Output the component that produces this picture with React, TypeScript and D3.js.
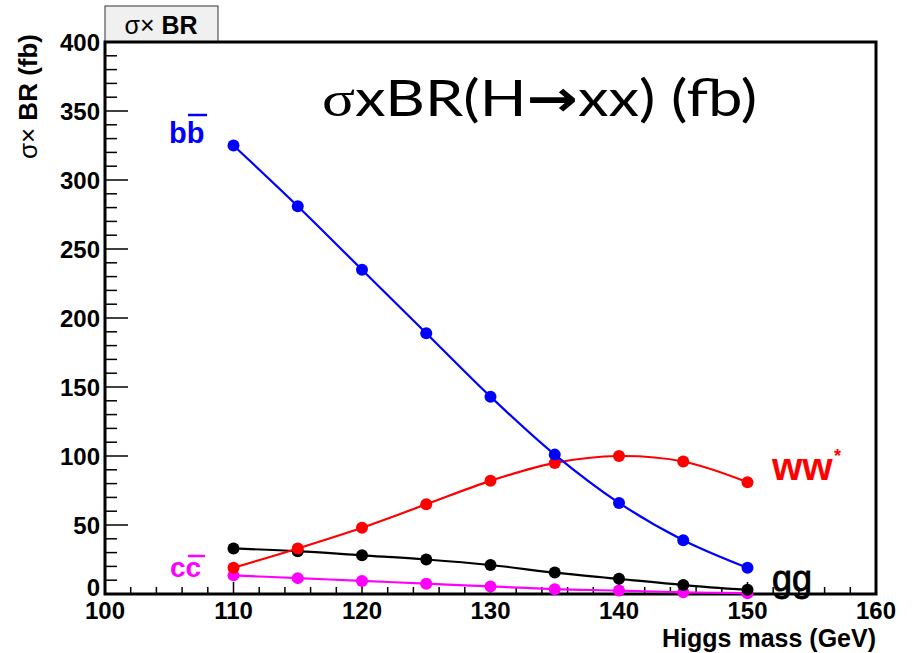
import React from "react";
import * as d3 from "d3";

const mass = [110, 115, 120, 125, 130, 135, 140, 145, 150];
const bbValues = [325, 281, 235, 189, 143, 101, 66, 39, 19];
const wwValues = [19, 33, 48, 65, 82, 95, 100, 96, 81];
const ggValues = [33, 31, 28, 25, 21, 15.5, 11, 6.5, 3];
const ccValues = [13.5, 11.5, 9.5, 7.5, 5.5, 3.5, 2.5, 1.2, 0.6];
const xTicks = [100, 110, 120, 130, 140, 150, 160];
const yTicks = [0, 50, 100, 150, 200, 250, 300, 350, 400];

const W = 913, H = 653;
const L = 105, R = 876, T = 42, B = 594;

export default function App() {
  const x = d3.scaleLinear().domain([100, 160]).range([L, R]);
  const y = d3.scaleLinear().domain([0, 400]).range([B, T]);
  const line = d3
    .line<number>()
    .x((_, i) => x(mass[i]))
    .y((d) => y(d))
    .curve(d3.curveCatmullRom.alpha(0.5));

  const series = [
    { vals: ccValues, color: "#ff00ff" },
    { vals: ggValues, color: "#000000" },
    { vals: wwValues, color: "#ff0000" },
    { vals: bbValues, color: "#0000ff" },
  ];

  const xMinor = d3.range(100, 160.001, 2);
  const yMinor = d3.range(0, 400.001, 10);
  const font = "'Liberation Sans', Arial, Helvetica, sans-serif";

  return (
    <svg
      width={W}
      height={H}
      style={{ position: "absolute", left: 0, top: 0, background: "#fff" }}
      fontFamily={font}
    >
      <rect x={0} y={0} width={W} height={H} fill="#fff" />
      {/* title box */}
      <rect x={105} y={6} width={113} height={36} fill="#f0f0f0" stroke="#333" strokeWidth={1} />
      <text x={161} y={34} textAnchor="middle" fontSize={25}>
        <tspan>σ×</tspan>
        <tspan fontWeight="bold"> BR</tspan>
      </text>

      {/* ticks */}
      {yMinor.map((v) => (
        <line
          key={"ym" + v}
          x1={L}
          x2={L + (v % 50 === 0 ? 23 : 12)}
          y1={y(v)}
          y2={y(v)}
          stroke="#000"
          strokeWidth={1.5}
        />
      ))}
      {xMinor.map((v) => (
        <line
          key={"xm" + v}
          x1={x(v)}
          x2={x(v)}
          y1={B}
          y2={B - (Math.abs(v % 10) < 0.01 ? 12 : 7)}
          stroke="#000"
          strokeWidth={1.5}
        />
      ))}

      {/* frame */}
      <rect x={L} y={T} width={R - L} height={B - T} fill="none" stroke="#000" strokeWidth={3} />

      {/* tick labels */}
      {yTicks.map((v) => (
        <text
          key={"yl" + v}
          x={L - 5}
          y={v === 0 ? y(v) - 7 : y(v)}
          dy="0.36em"
          textAnchor="end"
          fontSize={24}
          fontWeight="bold"
        >
          {v}
        </text>
      ))}
      {xTicks.map((v) => (
        <text
          key={"xl" + v}
          x={x(v)}
          y={619}
          textAnchor="middle"
          fontSize={24}
          fontWeight="bold"
        >
          {v}
        </text>
      ))}

      {/* axis titles */}
      <text x={R} y={647} textAnchor="end" fontSize={25} fontWeight="bold">
        Higgs mass (GeV)
      </text>
      <text
        transform={`translate(37,34) rotate(-90)`}
        textAnchor="end"
        fontSize={26}
      >
        <tspan>σ×</tspan>
        <tspan fontWeight="bold"> BR (fb)</tspan>
      </text>

      {/* series */}
      {series.map((s, si) => (
        <g key={"s" + si}>
          <path d={line(s.vals) || ""} fill="none" stroke={s.color} strokeWidth={2.2} />
          {s.vals.map((v, i) => (
            <circle key={i} cx={x(mass[i])} cy={y(v)} r={6} fill={s.color} />
          ))}
        </g>
      ))}

      {/* labels */}
      <text x={169} y={143} fontSize={29} fontWeight="bold" fill="#0000ff">
        bb
      </text>
      <line x1={188} x2={207} y1={115} y2={115} stroke="#0000ff" strokeWidth={2.5} />

      <text x={170} y={577} fontSize={28} fontWeight="bold" fill="#ff00ff">
        cc
      </text>
      <line x1={188} x2={205} y1={556} y2={556} stroke="#ff00ff" strokeWidth={2.5} />

      <text x={772} y={480} fontSize={39} fontWeight="bold" fill="#ff0000">
        ww
      </text>
      <text x={834} y={462} fontSize={18} fontWeight="bold" fill="#ff0000">
        *
      </text>

      <text x={772} y={591} fontSize={36} fill="#000" stroke="#000" strokeWidth={0.9}>
        gg
      </text>

      {/* big title */}
      <text x={322} y={116} fontSize={50} fontFamily="Lato, 'Open Sans', sans-serif" textLength={435} lengthAdjust="spacingAndGlyphs">
        <tspan fontFamily="'Liberation Serif', serif">σ</tspan>
        <tspan>xBR(H</tspan>
        <tspan fontFamily="'DejaVu Sans', sans-serif" fontWeight="bold">→</tspan>
        <tspan>xx) (fb)</tspan>
      </text>
    </svg>
  );
}
